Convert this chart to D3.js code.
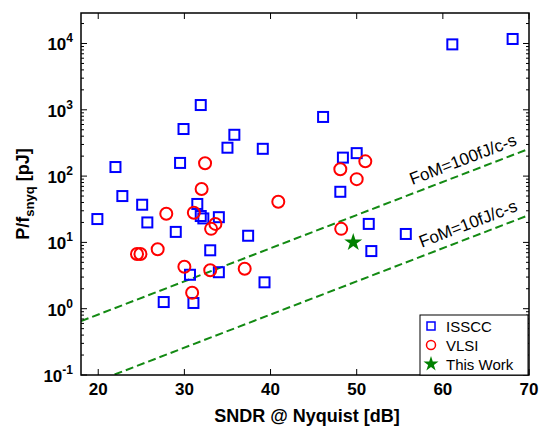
<!DOCTYPE html>
<html lang="en">
<head>
    <meta charset="UTF-8">
    <title>ADC FoM survey</title>
    <style>
        body {
            margin: 0;
            background-color: #ffffff;
        }
        svg {
            display: block;
            font-family: "Liberation Sans", Arial, sans-serif;
        }
    </style>
    <script src="https://d3js.org/d3.v7.min.js"></script>
</head>
<body>
    <svg width="539" height="426"></svg>
    <script>
        // data: [SNDR dB, P/fs pJ]
        const isscc = [
            [19.9, 22.5], [22.0, 137], [22.8, 50], [25.1, 37], [25.7, 20],
            [27.6, 1.26], [29.0, 14.4], [29.5, 158], [29.9, 513], [30.65, 3.25],
            [31.05, 1.22], [31.5, 38], [31.9, 1180], [31.9, 25], [32.2, 23],
            [33.0, 7.6], [34.0, 24], [34.0, 3.55], [35.0, 268], [35.8, 420],
            [37.4, 12.6], [39.1, 258], [39.3, 2.5], [46.1, 780], [48.1, 58],
            [48.4, 190], [50.0, 222], [51.4, 19], [51.7, 7.4], [55.7, 13.4],
            [61.1, 9700], [68.1, 11700]
        ];
        const vlsi = [
            [24.5, 6.7], [24.9, 6.7], [26.9, 7.9], [27.9, 27], [30.0, 4.3],
            [30.9, 1.74], [31.1, 28], [32.0, 64], [32.4, 156], [33.0, 3.8],
            [33.1, 16], [33.6, 19], [37.0, 4.0], [40.9, 41], [48.1, 127],
            [48.2, 16], [50.0, 90], [51.0, 167]
        ];
        const thisWork = [[49.6, 10]];
        const fomLines = [100, 10]; // fJ/conv-step
        const fomLabels = ["FoM=100fJ/c-s", "FoM=10fJ/c-s"];
        const xTicks = [20, 30, 40, 50, 60, 70];
        const yTicks = [-1, 0, 1, 2, 3, 4]; // exponents

        const svg = d3.select("svg");
        const pLeft = 81, pRight = 529, pTop = 13, pBottom = 375;

        const x = d3.scaleLinear().domain([18, 70]).range([pLeft, pRight]);
        const y = d3.scaleLog().domain([0.1, Math.pow(10, 4.46)]).range([pBottom, pTop]);

        // FoM = P/fs / 2^ENOB  ->  P/fs[pJ] = FoM[fJ]/1000 * 2^((SNDR-1.76)/6.02)
        const fomP = (fom, s) => fom / 1000 * Math.pow(2, (s - 1.76) / 6.02);

        svg.append("clipPath").attr("id", "plotclip")
            .append("rect")
            .attr("x", pLeft).attr("y", pTop)
            .attr("width", pRight - pLeft).attr("height", pBottom - pTop);

        const plot = svg.append("g").attr("clip-path", "url(#plotclip)");

        fomLines.forEach(f => {
            const pts = x.domain().map(s => [x(s), y(fomP(f, s))]);
            plot.append("path")
                .attr("d", d3.line()(pts))
                .attr("fill", "none")
                .attr("stroke", "#138a13")
                .attr("stroke-width", 2)
                .attr("stroke-dasharray", "8,4");
        });

        // line labels, rotated to the line slope
        const angle = Math.atan2(y(fomP(100, 70)) - y(fomP(100, 20)), x(70) - x(20)) * 180 / Math.PI;
        [[100, 62.9, -8], [10, 63.5, -8]].forEach((d, i) => {
            const px = x(d[1]), py = y(fomP(d[0], d[1]));
            svg.append("text")
                .attr("transform", `translate(${px},${py}) rotate(${angle})`)
                .attr("y", d[2])
                .attr("text-anchor", "middle")
                .attr("font-size", 17)
                .attr("fill", "#000")
                .text(fomLabels[i]);
        });

        // markers
        plot.selectAll(".sq").data(isscc).enter().append("rect")
            .attr("x", d => x(d[0]) - 5)
            .attr("y", d => y(d[1]) - 5)
            .attr("width", 10).attr("height", 10)
            .attr("fill", "none")
            .attr("stroke", "#0000ff")
            .attr("stroke-width", 2);

        plot.selectAll(".ci").data(vlsi).enter().append("circle")
            .attr("cx", d => x(d[0]))
            .attr("cy", d => y(d[1]))
            .attr("r", 6)
            .attr("fill", "none")
            .attr("stroke", "#ff0000")
            .attr("stroke-width", 2);

        plot.selectAll(".st").data(thisWork).enter().append("path")
            .attr("d", d3.symbol().type(d3.symbolStar).size(100))
            .attr("transform", d => `translate(${x(d[0])},${y(d[1])})`)
            .attr("fill", "#008000");

        // ticks, inward on all sides
        const axes = svg.append("g").attr("stroke", "#000").attr("stroke-width", 1);
        xTicks.forEach(t => {
            axes.append("line").attr("x1", x(t)).attr("x2", x(t)).attr("y1", pBottom).attr("y2", pBottom - 6);
            axes.append("line").attr("x1", x(t)).attr("x2", x(t)).attr("y1", pTop).attr("y2", pTop + 6);
        });
        y.ticks().forEach(t => {
            const major = Math.abs(Math.log10(t) - Math.round(Math.log10(t))) < 1e-6;
            const len = major ? 6 : 3;
            axes.append("line").attr("x1", pLeft).attr("x2", pLeft + len).attr("y1", y(t)).attr("y2", y(t));
            axes.append("line").attr("x1", pRight).attr("x2", pRight - len).attr("y1", y(t)).attr("y2", y(t));
        });

        svg.append("rect")
            .attr("x", pLeft).attr("y", pTop)
            .attr("width", pRight - pLeft).attr("height", pBottom - pTop)
            .attr("fill", "none")
            .attr("stroke", "#000")
            .attr("stroke-width", 1.5);

        // tick labels
        svg.selectAll(".xt").data(xTicks).enter().append("text")
            .attr("x", d => x(d))
            .attr("y", 395)
            .attr("text-anchor", "middle")
            .attr("font-size", 17)
            .attr("font-weight", "bold")
            .text(d => d);

        yTicks.forEach(e => {
            const t = svg.append("text")
                .attr("x", 73)
                .attr("y", y(Math.pow(10, e)) + 7)
                .attr("text-anchor", "end")
                .attr("font-size", 17)
                .attr("font-weight", "bold");
            t.append("tspan").text("10");
            t.append("tspan").attr("font-size", 12).attr("dy", -8).text(e);
        });

        // axis titles
        svg.append("text")
            .attr("x", 307)
            .attr("y", 422)
            .attr("text-anchor", "middle")
            .attr("font-size", 18)
            .attr("font-weight", "bold")
            .text("SNDR @ Nyquist [dB]");

        const yl = svg.append("text")
            .attr("transform", "translate(29,194) rotate(-90)")
            .attr("text-anchor", "middle")
            .attr("font-size", 18)
            .attr("font-weight", "bold");
        yl.append("tspan").text("P/f");
        yl.append("tspan").attr("font-size", 13).attr("dy", 5).text("snyq");
        yl.append("tspan").attr("dy", -5).text(" [pJ]");

        // legend
        const lg = svg.append("g");
        lg.append("rect")
            .attr("x", 420).attr("y", 315)
            .attr("width", 108).attr("height", 60)
            .attr("fill", "#fff")
            .attr("stroke", "#000")
            .attr("stroke-width", 1);
        const ly = [326, 345, 364];
        lg.append("rect").attr("x", 427).attr("y", ly[0] - 4).attr("width", 8).attr("height", 8)
            .attr("fill", "none").attr("stroke", "#0000ff").attr("stroke-width", 1.5);
        lg.append("circle").attr("cx", 431).attr("cy", ly[1]).attr("r", 4.5)
            .attr("fill", "none").attr("stroke", "#ff0000").attr("stroke-width", 1.5);
        lg.append("path").attr("d", d3.symbol().type(d3.symbolStar).size(70))
            .attr("transform", `translate(431,${ly[2]})`).attr("fill", "#008000");
        ["ISSCC", "VLSI", "This Work"].forEach((s, i) => {
            lg.append("text")
                .attr("x", 446)
                .attr("y", ly[i] + 5.5)
                .attr("font-size", 15)
                .text(s);
        });
    </script>
</body>
</html>
